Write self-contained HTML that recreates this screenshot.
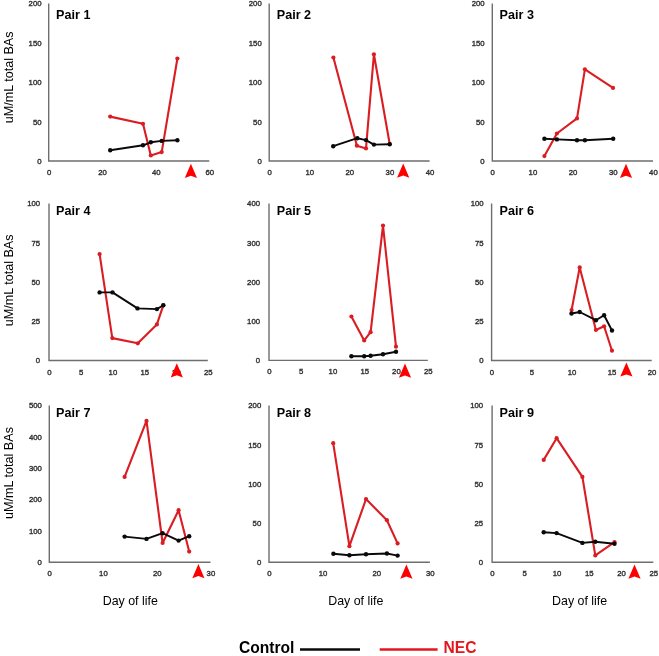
<!DOCTYPE html>
<html><head><meta charset="utf-8"><style>
html,body{margin:0;padding:0;background:#fff;}
body{width:659px;height:656px;overflow:hidden;}
svg{display:block;will-change:transform;}
text{font-family:"Liberation Sans",sans-serif;}
.t{font-size:8.0px;fill:#333333;stroke:#333333;stroke-width:0.4px;}
.p{font-size:12.6px;font-weight:bold;fill:#000;}
.yt{font-size:12.6px;fill:#000;}
.xt{font-size:12.4px;fill:#000;}
.lg{font-size:15.6px;font-weight:bold;fill:#000;}
</style></head><body>
<svg width="659" height="656" viewBox="0 0 659 656">
<rect width="659" height="656" fill="#fff"/>
<path d="M48.7 3.5V161.0H209.3" fill="none" stroke="#6e6e6e" stroke-width="1.4"/>
<text x="41.5" y="163.8" class="t" text-anchor="end" textLength="4.3" lengthAdjust="spacingAndGlyphs">0</text>
<text x="41.5" y="124.5" class="t" text-anchor="end" textLength="8.6" lengthAdjust="spacingAndGlyphs">50</text>
<text x="41.5" y="85.1" class="t" text-anchor="end" textLength="12.9" lengthAdjust="spacingAndGlyphs">100</text>
<text x="41.5" y="45.7" class="t" text-anchor="end" textLength="12.9" lengthAdjust="spacingAndGlyphs">150</text>
<text x="41.5" y="6.3" class="t" text-anchor="end" textLength="12.9" lengthAdjust="spacingAndGlyphs">200</text>
<text x="49.1" y="175.0" class="t" text-anchor="middle" textLength="4.3" lengthAdjust="spacingAndGlyphs">0</text>
<text x="102.6" y="175.0" class="t" text-anchor="middle" textLength="8.6" lengthAdjust="spacingAndGlyphs">20</text>
<text x="156.2" y="175.0" class="t" text-anchor="middle" textLength="8.6" lengthAdjust="spacingAndGlyphs">40</text>
<text x="209.7" y="175.0" class="t" text-anchor="middle" textLength="8.6" lengthAdjust="spacingAndGlyphs">60</text>
<text x="56.1" y="18.9" class="p">Pair 1</text>
<polyline points="110.2,116.6 143.0,123.8 150.8,155.5 161.7,152.1 177.4,58.5" fill="none" stroke="#da1d23" stroke-width="2.1" stroke-linejoin="round"/>
<circle cx="110.2" cy="116.6" r="2.1" fill="#da1d23"/>
<circle cx="143.0" cy="123.8" r="2.1" fill="#da1d23"/>
<circle cx="150.8" cy="155.5" r="2.1" fill="#da1d23"/>
<circle cx="161.7" cy="152.1" r="2.1" fill="#da1d23"/>
<circle cx="177.4" cy="58.5" r="2.1" fill="#da1d23"/>
<polyline points="110.2,150.3 143.0,145.3 150.8,142.3 161.7,140.9 177.4,140.2" fill="none" stroke="#0a0a0a" stroke-width="1.9" stroke-linejoin="round"/>
<circle cx="110.2" cy="150.3" r="2.2" fill="#0a0a0a"/>
<circle cx="143.0" cy="145.3" r="2.2" fill="#0a0a0a"/>
<circle cx="150.8" cy="142.3" r="2.2" fill="#0a0a0a"/>
<circle cx="161.7" cy="140.9" r="2.2" fill="#0a0a0a"/>
<circle cx="177.4" cy="140.2" r="2.2" fill="#0a0a0a"/>
<path d="M190.9 163.7L197.0 177.9L190.9 175.7L184.8 177.9Z" fill="#ff0000"/>
<path d="M269.2 3.5V161.0H429.6" fill="none" stroke="#6e6e6e" stroke-width="1.4"/>
<text x="261.7" y="163.8" class="t" text-anchor="end" textLength="4.3" lengthAdjust="spacingAndGlyphs">0</text>
<text x="261.7" y="124.5" class="t" text-anchor="end" textLength="8.6" lengthAdjust="spacingAndGlyphs">50</text>
<text x="261.7" y="85.1" class="t" text-anchor="end" textLength="12.9" lengthAdjust="spacingAndGlyphs">100</text>
<text x="261.7" y="45.7" class="t" text-anchor="end" textLength="12.9" lengthAdjust="spacingAndGlyphs">150</text>
<text x="261.7" y="6.3" class="t" text-anchor="end" textLength="12.9" lengthAdjust="spacingAndGlyphs">200</text>
<text x="269.6" y="175.0" class="t" text-anchor="middle" textLength="4.3" lengthAdjust="spacingAndGlyphs">0</text>
<text x="309.7" y="175.0" class="t" text-anchor="middle" textLength="8.6" lengthAdjust="spacingAndGlyphs">10</text>
<text x="349.8" y="175.0" class="t" text-anchor="middle" textLength="8.6" lengthAdjust="spacingAndGlyphs">20</text>
<text x="389.9" y="175.0" class="t" text-anchor="middle" textLength="8.6" lengthAdjust="spacingAndGlyphs">30</text>
<text x="430.0" y="175.0" class="t" text-anchor="middle" textLength="8.6" lengthAdjust="spacingAndGlyphs">40</text>
<text x="276.8" y="18.9" class="p">Pair 2</text>
<polyline points="333.4,57.5 356.9,145.7 366.0,148.4 373.9,54.3 389.7,144.0" fill="none" stroke="#da1d23" stroke-width="2.1" stroke-linejoin="round"/>
<circle cx="333.4" cy="57.5" r="2.1" fill="#da1d23"/>
<circle cx="356.9" cy="145.7" r="2.1" fill="#da1d23"/>
<circle cx="366.0" cy="148.4" r="2.1" fill="#da1d23"/>
<circle cx="373.9" cy="54.3" r="2.1" fill="#da1d23"/>
<circle cx="389.7" cy="144.0" r="2.1" fill="#da1d23"/>
<polyline points="333.2,146.2 357.3,138.2 366.0,140.1 373.9,144.6 389.7,144.2" fill="none" stroke="#0a0a0a" stroke-width="1.9" stroke-linejoin="round"/>
<circle cx="333.2" cy="146.2" r="2.2" fill="#0a0a0a"/>
<circle cx="357.3" cy="138.2" r="2.2" fill="#0a0a0a"/>
<circle cx="366.0" cy="140.1" r="2.2" fill="#0a0a0a"/>
<circle cx="373.9" cy="144.6" r="2.2" fill="#0a0a0a"/>
<circle cx="389.7" cy="144.2" r="2.2" fill="#0a0a0a"/>
<path d="M403.2 163.5L409.3 177.7L403.2 175.5L397.1 177.7Z" fill="#ff0000"/>
<path d="M492.3 3.5V161.0H653.0" fill="none" stroke="#6e6e6e" stroke-width="1.4"/>
<text x="484.6" y="163.8" class="t" text-anchor="end" textLength="4.3" lengthAdjust="spacingAndGlyphs">0</text>
<text x="484.6" y="124.5" class="t" text-anchor="end" textLength="8.6" lengthAdjust="spacingAndGlyphs">50</text>
<text x="484.6" y="85.1" class="t" text-anchor="end" textLength="12.9" lengthAdjust="spacingAndGlyphs">100</text>
<text x="484.6" y="45.7" class="t" text-anchor="end" textLength="12.9" lengthAdjust="spacingAndGlyphs">150</text>
<text x="484.6" y="6.3" class="t" text-anchor="end" textLength="12.9" lengthAdjust="spacingAndGlyphs">200</text>
<text x="492.7" y="175.0" class="t" text-anchor="middle" textLength="4.3" lengthAdjust="spacingAndGlyphs">0</text>
<text x="532.9" y="175.0" class="t" text-anchor="middle" textLength="8.6" lengthAdjust="spacingAndGlyphs">10</text>
<text x="573.0" y="175.0" class="t" text-anchor="middle" textLength="8.6" lengthAdjust="spacingAndGlyphs">20</text>
<text x="613.2" y="175.0" class="t" text-anchor="middle" textLength="8.6" lengthAdjust="spacingAndGlyphs">30</text>
<text x="653.4" y="175.0" class="t" text-anchor="middle" textLength="8.6" lengthAdjust="spacingAndGlyphs">40</text>
<text x="499.6" y="18.9" class="p">Pair 3</text>
<polyline points="544.4,156.1 556.9,133.5 577.0,118.4 584.9,69.3 613.0,87.9" fill="none" stroke="#da1d23" stroke-width="2.1" stroke-linejoin="round"/>
<circle cx="544.4" cy="156.1" r="2.1" fill="#da1d23"/>
<circle cx="556.9" cy="133.5" r="2.1" fill="#da1d23"/>
<circle cx="577.0" cy="118.4" r="2.1" fill="#da1d23"/>
<circle cx="584.9" cy="69.3" r="2.1" fill="#da1d23"/>
<circle cx="613.0" cy="87.9" r="2.1" fill="#da1d23"/>
<polyline points="544.4,138.8 556.9,139.4 577.0,140.2 584.9,140.2 613.2,138.8" fill="none" stroke="#0a0a0a" stroke-width="1.9" stroke-linejoin="round"/>
<circle cx="544.4" cy="138.8" r="2.2" fill="#0a0a0a"/>
<circle cx="556.9" cy="139.4" r="2.2" fill="#0a0a0a"/>
<circle cx="577.0" cy="140.2" r="2.2" fill="#0a0a0a"/>
<circle cx="584.9" cy="140.2" r="2.2" fill="#0a0a0a"/>
<circle cx="613.2" cy="138.8" r="2.2" fill="#0a0a0a"/>
<path d="M626.0 163.7L632.1 177.9L626.0 175.7L619.9 177.9Z" fill="#ff0000"/>
<path d="M49.0 203.4V360.5H207.8" fill="none" stroke="#6e6e6e" stroke-width="1.4"/>
<text x="40.1" y="363.4" class="t" text-anchor="end" textLength="4.3" lengthAdjust="spacingAndGlyphs">0</text>
<text x="40.1" y="324.1" class="t" text-anchor="end" textLength="8.6" lengthAdjust="spacingAndGlyphs">25</text>
<text x="40.1" y="284.8" class="t" text-anchor="end" textLength="8.6" lengthAdjust="spacingAndGlyphs">50</text>
<text x="40.1" y="245.5" class="t" text-anchor="end" textLength="8.6" lengthAdjust="spacingAndGlyphs">75</text>
<text x="40.1" y="206.2" class="t" text-anchor="end" textLength="12.9" lengthAdjust="spacingAndGlyphs">100</text>
<text x="49.4" y="374.5" class="t" text-anchor="middle" textLength="4.3" lengthAdjust="spacingAndGlyphs">0</text>
<text x="81.2" y="374.5" class="t" text-anchor="middle" textLength="4.3" lengthAdjust="spacingAndGlyphs">5</text>
<text x="112.9" y="374.5" class="t" text-anchor="middle" textLength="8.6" lengthAdjust="spacingAndGlyphs">10</text>
<text x="144.7" y="374.5" class="t" text-anchor="middle" textLength="8.6" lengthAdjust="spacingAndGlyphs">15</text>
<text x="176.4" y="374.5" class="t" text-anchor="middle" textLength="8.6" lengthAdjust="spacingAndGlyphs">20</text>
<text x="208.2" y="374.5" class="t" text-anchor="middle" textLength="8.6" lengthAdjust="spacingAndGlyphs">25</text>
<text x="56.1" y="214.9" class="p">Pair 4</text>
<polyline points="99.6,254.1 112.3,338.1 137.8,343.3 156.9,324.4 163.3,305.3" fill="none" stroke="#da1d23" stroke-width="2.1" stroke-linejoin="round"/>
<circle cx="99.6" cy="254.1" r="2.1" fill="#da1d23"/>
<circle cx="112.3" cy="338.1" r="2.1" fill="#da1d23"/>
<circle cx="137.8" cy="343.3" r="2.1" fill="#da1d23"/>
<circle cx="156.9" cy="324.4" r="2.1" fill="#da1d23"/>
<circle cx="163.3" cy="305.3" r="2.1" fill="#da1d23"/>
<polyline points="99.6,292.4 112.5,292.4 137.5,308.4 156.9,309.1 163.3,305.3" fill="none" stroke="#0a0a0a" stroke-width="1.9" stroke-linejoin="round"/>
<circle cx="99.6" cy="292.4" r="2.2" fill="#0a0a0a"/>
<circle cx="112.5" cy="292.4" r="2.2" fill="#0a0a0a"/>
<circle cx="137.5" cy="308.4" r="2.2" fill="#0a0a0a"/>
<circle cx="156.9" cy="309.1" r="2.2" fill="#0a0a0a"/>
<circle cx="163.3" cy="305.3" r="2.2" fill="#0a0a0a"/>
<path d="M176.8 363.2L182.9 377.4L176.8 375.2L170.7 377.4Z" fill="#ff0000"/>
<path d="M269.0 203.4V360.4H427.8" fill="none" stroke="#6e6e6e" stroke-width="1.4"/>
<text x="260.0" y="363.2" class="t" text-anchor="end" textLength="4.3" lengthAdjust="spacingAndGlyphs">0</text>
<text x="260.0" y="324.0" class="t" text-anchor="end" textLength="12.9" lengthAdjust="spacingAndGlyphs">100</text>
<text x="260.0" y="284.8" class="t" text-anchor="end" textLength="12.9" lengthAdjust="spacingAndGlyphs">200</text>
<text x="260.0" y="245.5" class="t" text-anchor="end" textLength="12.9" lengthAdjust="spacingAndGlyphs">300</text>
<text x="260.0" y="206.2" class="t" text-anchor="end" textLength="12.9" lengthAdjust="spacingAndGlyphs">400</text>
<text x="269.4" y="374.4" class="t" text-anchor="middle" textLength="4.3" lengthAdjust="spacingAndGlyphs">0</text>
<text x="301.2" y="374.4" class="t" text-anchor="middle" textLength="4.3" lengthAdjust="spacingAndGlyphs">5</text>
<text x="332.9" y="374.4" class="t" text-anchor="middle" textLength="8.6" lengthAdjust="spacingAndGlyphs">10</text>
<text x="364.7" y="374.4" class="t" text-anchor="middle" textLength="8.6" lengthAdjust="spacingAndGlyphs">15</text>
<text x="396.4" y="374.4" class="t" text-anchor="middle" textLength="8.6" lengthAdjust="spacingAndGlyphs">20</text>
<text x="428.2" y="374.4" class="t" text-anchor="middle" textLength="8.6" lengthAdjust="spacingAndGlyphs">25</text>
<text x="276.8" y="214.9" class="p">Pair 5</text>
<polyline points="351.4,316.5 364.2,340.4 370.6,332.2 383.0,225.6 396.0,346.7" fill="none" stroke="#da1d23" stroke-width="2.1" stroke-linejoin="round"/>
<circle cx="351.4" cy="316.5" r="2.1" fill="#da1d23"/>
<circle cx="364.2" cy="340.4" r="2.1" fill="#da1d23"/>
<circle cx="370.6" cy="332.2" r="2.1" fill="#da1d23"/>
<circle cx="383.0" cy="225.6" r="2.1" fill="#da1d23"/>
<circle cx="396.0" cy="346.7" r="2.1" fill="#da1d23"/>
<polyline points="351.4,356.3 364.2,356.3 370.6,355.8 383.0,354.2 396.0,351.7" fill="none" stroke="#0a0a0a" stroke-width="1.9" stroke-linejoin="round"/>
<circle cx="351.4" cy="356.3" r="2.2" fill="#0a0a0a"/>
<circle cx="364.2" cy="356.3" r="2.2" fill="#0a0a0a"/>
<circle cx="370.6" cy="355.8" r="2.2" fill="#0a0a0a"/>
<circle cx="383.0" cy="354.2" r="2.2" fill="#0a0a0a"/>
<circle cx="396.0" cy="351.7" r="2.2" fill="#0a0a0a"/>
<path d="M405.0 363.5L411.1 377.7L405.0 375.5L398.9 377.7Z" fill="#ff0000"/>
<path d="M491.6 203.4V360.5H651.7" fill="none" stroke="#6e6e6e" stroke-width="1.4"/>
<text x="483.6" y="363.4" class="t" text-anchor="end" textLength="4.3" lengthAdjust="spacingAndGlyphs">0</text>
<text x="483.6" y="324.1" class="t" text-anchor="end" textLength="8.6" lengthAdjust="spacingAndGlyphs">25</text>
<text x="483.6" y="284.8" class="t" text-anchor="end" textLength="8.6" lengthAdjust="spacingAndGlyphs">50</text>
<text x="483.6" y="245.5" class="t" text-anchor="end" textLength="8.6" lengthAdjust="spacingAndGlyphs">75</text>
<text x="483.6" y="206.2" class="t" text-anchor="end" textLength="12.9" lengthAdjust="spacingAndGlyphs">100</text>
<text x="492.0" y="374.5" class="t" text-anchor="middle" textLength="4.3" lengthAdjust="spacingAndGlyphs">0</text>
<text x="532.0" y="374.5" class="t" text-anchor="middle" textLength="4.3" lengthAdjust="spacingAndGlyphs">5</text>
<text x="572.1" y="374.5" class="t" text-anchor="middle" textLength="8.6" lengthAdjust="spacingAndGlyphs">10</text>
<text x="612.1" y="374.5" class="t" text-anchor="middle" textLength="8.6" lengthAdjust="spacingAndGlyphs">15</text>
<text x="652.1" y="374.5" class="t" text-anchor="middle" textLength="8.6" lengthAdjust="spacingAndGlyphs">20</text>
<text x="499.6" y="214.9" class="p">Pair 6</text>
<polyline points="571.6,310.0 579.7,267.4 595.9,330.0 604.1,326.3 612.0,350.7" fill="none" stroke="#da1d23" stroke-width="2.1" stroke-linejoin="round"/>
<circle cx="571.6" cy="310.0" r="2.1" fill="#da1d23"/>
<circle cx="579.7" cy="267.4" r="2.1" fill="#da1d23"/>
<circle cx="595.9" cy="330.0" r="2.1" fill="#da1d23"/>
<circle cx="604.1" cy="326.3" r="2.1" fill="#da1d23"/>
<circle cx="612.0" cy="350.7" r="2.1" fill="#da1d23"/>
<polyline points="571.5,313.5 579.7,312.0 595.9,320.2 604.1,315.2 612.0,330.5" fill="none" stroke="#0a0a0a" stroke-width="1.9" stroke-linejoin="round"/>
<circle cx="571.5" cy="313.5" r="2.2" fill="#0a0a0a"/>
<circle cx="579.7" cy="312.0" r="2.2" fill="#0a0a0a"/>
<circle cx="595.9" cy="320.2" r="2.2" fill="#0a0a0a"/>
<circle cx="604.1" cy="315.2" r="2.2" fill="#0a0a0a"/>
<circle cx="612.0" cy="330.5" r="2.2" fill="#0a0a0a"/>
<path d="M626.4 362.4L632.5 376.6L626.4 374.4L620.3 376.6Z" fill="#ff0000"/>
<path d="M49.3 405.5V562.3H210.5" fill="none" stroke="#6e6e6e" stroke-width="1.4"/>
<text x="41.9" y="565.1" class="t" text-anchor="end" textLength="4.3" lengthAdjust="spacingAndGlyphs">0</text>
<text x="41.9" y="533.8" class="t" text-anchor="end" textLength="12.9" lengthAdjust="spacingAndGlyphs">100</text>
<text x="41.9" y="502.4" class="t" text-anchor="end" textLength="12.9" lengthAdjust="spacingAndGlyphs">200</text>
<text x="41.9" y="471.1" class="t" text-anchor="end" textLength="12.9" lengthAdjust="spacingAndGlyphs">300</text>
<text x="41.9" y="439.7" class="t" text-anchor="end" textLength="12.9" lengthAdjust="spacingAndGlyphs">400</text>
<text x="41.9" y="408.4" class="t" text-anchor="end" textLength="12.9" lengthAdjust="spacingAndGlyphs">500</text>
<text x="49.7" y="576.3" class="t" text-anchor="middle" textLength="4.3" lengthAdjust="spacingAndGlyphs">0</text>
<text x="103.4" y="576.3" class="t" text-anchor="middle" textLength="8.6" lengthAdjust="spacingAndGlyphs">10</text>
<text x="157.2" y="576.3" class="t" text-anchor="middle" textLength="8.6" lengthAdjust="spacingAndGlyphs">20</text>
<text x="210.9" y="576.3" class="t" text-anchor="middle" textLength="8.6" lengthAdjust="spacingAndGlyphs">30</text>
<text x="56.1" y="417.0" class="p">Pair 7</text>
<polyline points="124.6,476.9 146.5,420.9 162.6,543.0 178.6,510.2 189.2,551.6" fill="none" stroke="#da1d23" stroke-width="2.1" stroke-linejoin="round"/>
<circle cx="124.6" cy="476.9" r="2.1" fill="#da1d23"/>
<circle cx="146.5" cy="420.9" r="2.1" fill="#da1d23"/>
<circle cx="162.6" cy="543.0" r="2.1" fill="#da1d23"/>
<circle cx="178.6" cy="510.2" r="2.1" fill="#da1d23"/>
<circle cx="189.2" cy="551.6" r="2.1" fill="#da1d23"/>
<polyline points="124.6,536.6 146.5,538.9 162.6,533.2 178.6,540.6 189.2,536.2" fill="none" stroke="#0a0a0a" stroke-width="1.9" stroke-linejoin="round"/>
<circle cx="124.6" cy="536.6" r="2.2" fill="#0a0a0a"/>
<circle cx="146.5" cy="538.9" r="2.2" fill="#0a0a0a"/>
<circle cx="162.6" cy="533.2" r="2.2" fill="#0a0a0a"/>
<circle cx="178.6" cy="540.6" r="2.2" fill="#0a0a0a"/>
<circle cx="189.2" cy="536.2" r="2.2" fill="#0a0a0a"/>
<path d="M198.4 564.1L204.5 578.3L198.4 576.1L192.3 578.3Z" fill="#ff0000"/>
<path d="M269.0 405.5V562.3H429.9" fill="none" stroke="#6e6e6e" stroke-width="1.4"/>
<text x="261.2" y="565.1" class="t" text-anchor="end" textLength="4.3" lengthAdjust="spacingAndGlyphs">0</text>
<text x="261.2" y="525.9" class="t" text-anchor="end" textLength="8.6" lengthAdjust="spacingAndGlyphs">50</text>
<text x="261.2" y="486.8" class="t" text-anchor="end" textLength="12.9" lengthAdjust="spacingAndGlyphs">100</text>
<text x="261.2" y="447.6" class="t" text-anchor="end" textLength="12.9" lengthAdjust="spacingAndGlyphs">150</text>
<text x="261.2" y="408.4" class="t" text-anchor="end" textLength="12.9" lengthAdjust="spacingAndGlyphs">200</text>
<text x="269.4" y="576.3" class="t" text-anchor="middle" textLength="4.3" lengthAdjust="spacingAndGlyphs">0</text>
<text x="323.0" y="576.3" class="t" text-anchor="middle" textLength="8.6" lengthAdjust="spacingAndGlyphs">10</text>
<text x="376.7" y="576.3" class="t" text-anchor="middle" textLength="8.6" lengthAdjust="spacingAndGlyphs">20</text>
<text x="430.3" y="576.3" class="t" text-anchor="middle" textLength="8.6" lengthAdjust="spacingAndGlyphs">30</text>
<text x="276.8" y="417.0" class="p">Pair 8</text>
<polyline points="333.2,443.2 349.4,546.2 366.0,499.1 386.9,520.2 397.6,543.4" fill="none" stroke="#da1d23" stroke-width="2.1" stroke-linejoin="round"/>
<circle cx="333.2" cy="443.2" r="2.1" fill="#da1d23"/>
<circle cx="349.4" cy="546.2" r="2.1" fill="#da1d23"/>
<circle cx="366.0" cy="499.1" r="2.1" fill="#da1d23"/>
<circle cx="386.9" cy="520.2" r="2.1" fill="#da1d23"/>
<circle cx="397.6" cy="543.4" r="2.1" fill="#da1d23"/>
<polyline points="333.4,553.7 349.4,555.3 366.0,554.2 386.9,553.5 397.6,555.6" fill="none" stroke="#0a0a0a" stroke-width="1.9" stroke-linejoin="round"/>
<circle cx="333.4" cy="553.7" r="2.2" fill="#0a0a0a"/>
<circle cx="349.4" cy="555.3" r="2.2" fill="#0a0a0a"/>
<circle cx="366.0" cy="554.2" r="2.2" fill="#0a0a0a"/>
<circle cx="386.9" cy="553.5" r="2.2" fill="#0a0a0a"/>
<circle cx="397.6" cy="555.6" r="2.2" fill="#0a0a0a"/>
<path d="M406.4 564.6L412.5 578.8L406.4 576.6L400.3 578.8Z" fill="#ff0000"/>
<path d="M492.1 405.5V562.3H653.3" fill="none" stroke="#6e6e6e" stroke-width="1.4"/>
<text x="483.1" y="565.1" class="t" text-anchor="end" textLength="4.3" lengthAdjust="spacingAndGlyphs">0</text>
<text x="483.1" y="525.9" class="t" text-anchor="end" textLength="8.6" lengthAdjust="spacingAndGlyphs">25</text>
<text x="483.1" y="486.8" class="t" text-anchor="end" textLength="8.6" lengthAdjust="spacingAndGlyphs">50</text>
<text x="483.1" y="447.6" class="t" text-anchor="end" textLength="8.6" lengthAdjust="spacingAndGlyphs">75</text>
<text x="483.1" y="408.4" class="t" text-anchor="end" textLength="12.9" lengthAdjust="spacingAndGlyphs">100</text>
<text x="492.5" y="576.3" class="t" text-anchor="middle" textLength="4.3" lengthAdjust="spacingAndGlyphs">0</text>
<text x="524.7" y="576.3" class="t" text-anchor="middle" textLength="4.3" lengthAdjust="spacingAndGlyphs">5</text>
<text x="557.0" y="576.3" class="t" text-anchor="middle" textLength="8.6" lengthAdjust="spacingAndGlyphs">10</text>
<text x="589.2" y="576.3" class="t" text-anchor="middle" textLength="8.6" lengthAdjust="spacingAndGlyphs">15</text>
<text x="621.5" y="576.3" class="t" text-anchor="middle" textLength="8.6" lengthAdjust="spacingAndGlyphs">20</text>
<text x="653.7" y="576.3" class="t" text-anchor="middle" textLength="8.6" lengthAdjust="spacingAndGlyphs">25</text>
<text x="499.6" y="417.0" class="p">Pair 9</text>
<polyline points="543.7,459.9 556.6,438.2 582.4,476.9 595.3,555.4 614.5,542.2" fill="none" stroke="#da1d23" stroke-width="2.1" stroke-linejoin="round"/>
<circle cx="543.7" cy="459.9" r="2.1" fill="#da1d23"/>
<circle cx="556.6" cy="438.2" r="2.1" fill="#da1d23"/>
<circle cx="582.4" cy="476.9" r="2.1" fill="#da1d23"/>
<circle cx="595.3" cy="555.4" r="2.1" fill="#da1d23"/>
<circle cx="614.5" cy="542.2" r="2.1" fill="#da1d23"/>
<polyline points="543.7,532.2 556.6,533.1 582.4,542.9 595.3,541.7 614.5,543.7" fill="none" stroke="#0a0a0a" stroke-width="1.9" stroke-linejoin="round"/>
<circle cx="543.7" cy="532.2" r="2.2" fill="#0a0a0a"/>
<circle cx="556.6" cy="533.1" r="2.2" fill="#0a0a0a"/>
<circle cx="582.4" cy="542.9" r="2.2" fill="#0a0a0a"/>
<circle cx="595.3" cy="541.7" r="2.2" fill="#0a0a0a"/>
<circle cx="614.5" cy="543.7" r="2.2" fill="#0a0a0a"/>
<path d="M634.5 564.6L640.6 578.8L634.5 576.6L628.4 578.8Z" fill="#ff0000"/>
<text transform="translate(13.3 77.4) rotate(-90)" class="yt" text-anchor="middle">uM/mL total BAs</text>
<text transform="translate(13.3 280.4) rotate(-90)" class="yt" text-anchor="middle">uM/mL total BAs</text>
<text transform="translate(13.3 473.0) rotate(-90)" class="yt" text-anchor="middle">uM/mL total BAs</text>
<text x="130.3" y="605.0" class="xt" text-anchor="middle">Day of life</text>
<text x="355.8" y="605.0" class="xt" text-anchor="middle">Day of life</text>
<text x="579.6" y="605.0" class="xt" text-anchor="middle">Day of life</text>
<text x="239.0" y="652.9" class="lg">Control</text>
<line x1="300" y1="649.5" x2="360" y2="649.5" stroke="#0a0a0a" stroke-width="2.6"/>
<line x1="379.7" y1="649.5" x2="437.6" y2="649.5" stroke="#e3161e" stroke-width="2.6"/>
<text x="443.6" y="652.8" class="lg" style="fill:#e3161e">NEC</text>
</svg>
</body></html>
